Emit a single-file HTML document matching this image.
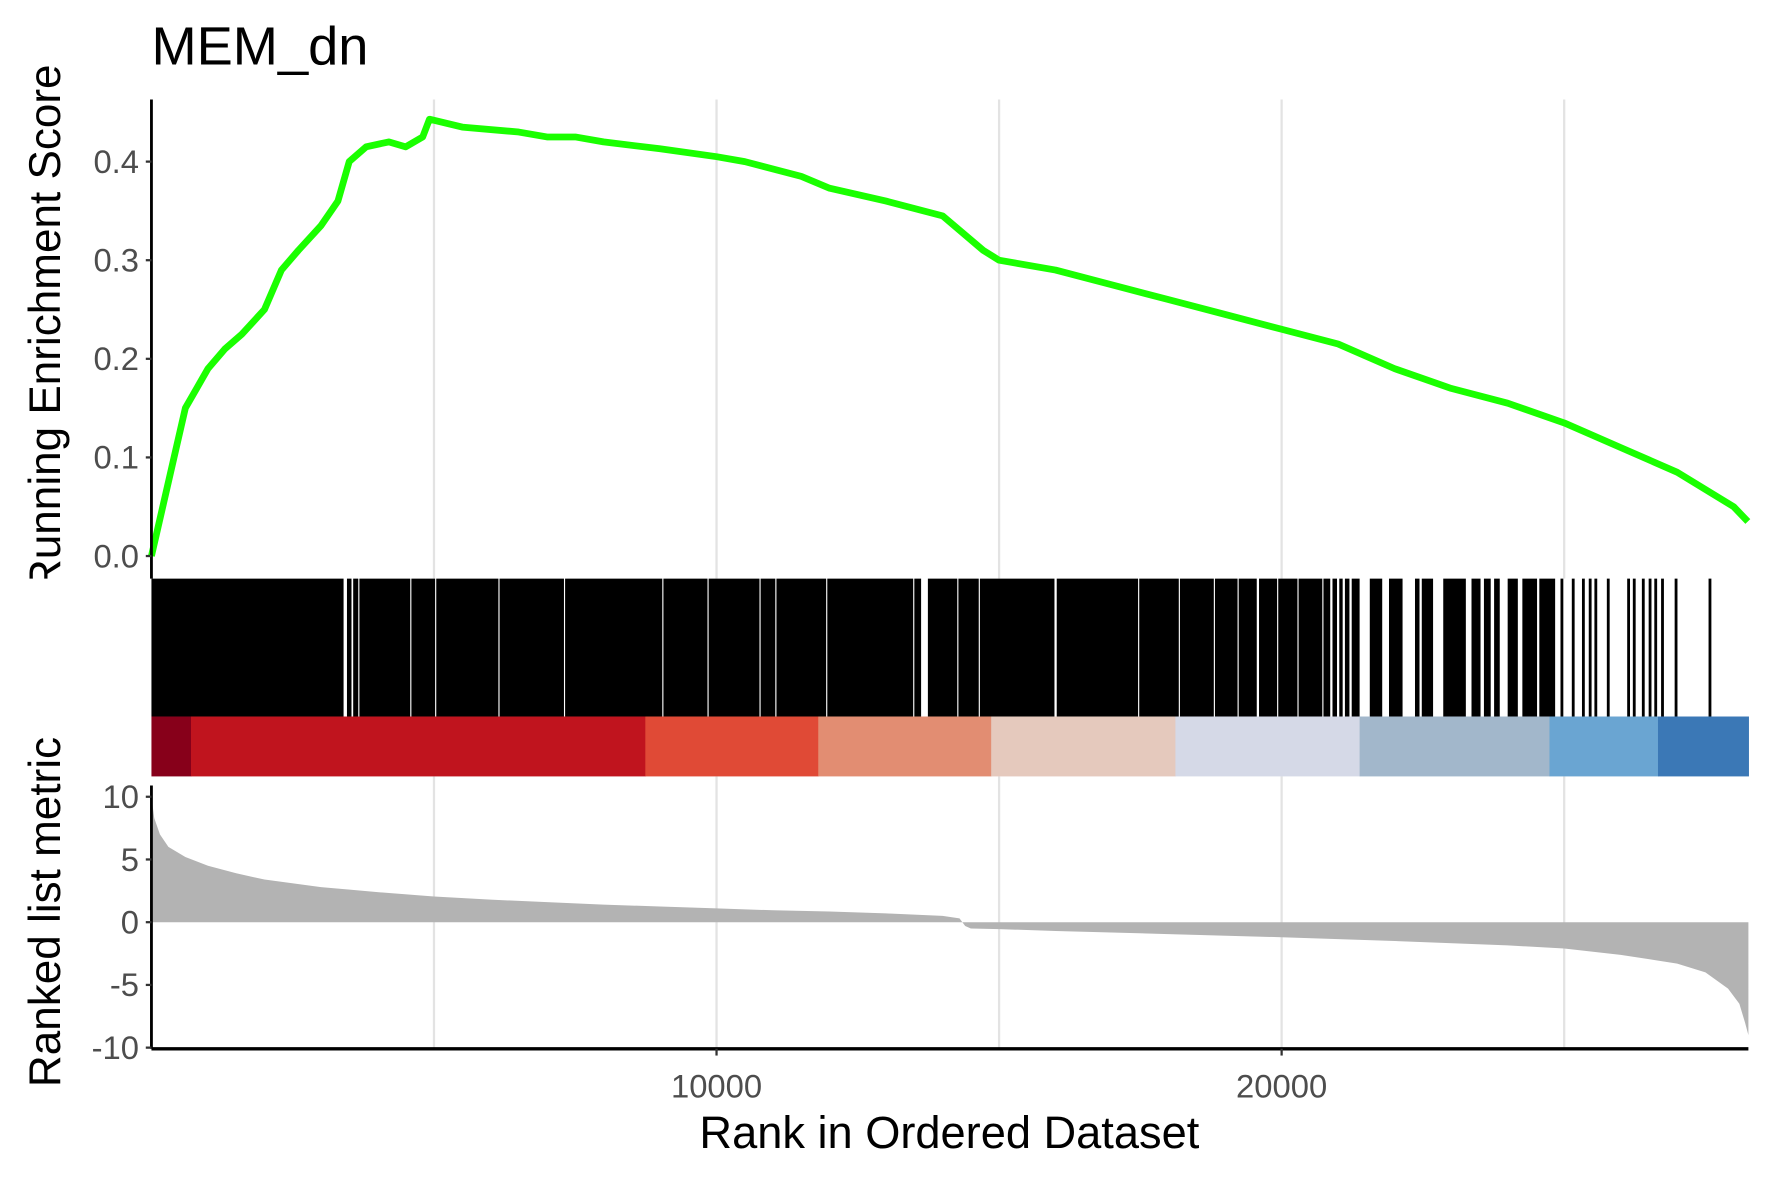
<!DOCTYPE html>
<html><head><meta charset="utf-8"><style>
html,body{margin:0;padding:0;background:#fff;}
svg{display:block;font-family:"Liberation Sans",Arial,sans-serif;}
</style></head><body>
<svg id="chart" width="1771" height="1181" viewBox="0 0 1567 1045" preserveAspectRatio="none" xmlns="http://www.w3.org/2000/svg">
<defs><clipPath id="ytclip"><rect x="0" y="40" width="130" height="472"/></clipPath></defs>
<rect width="1567" height="1045" fill="#fff"/>
<text x="134" y="57" font-size="48" fill="#000">MEM_dn</text>
<g id="grid"></g>
<g id="hits"></g>
<g id="colorbar"></g>
<g id="metric"></g>
<g id="es"></g>
<g id="axes"></g>
<g clip-path="url(#ytclip)"><text transform="translate(53,290) rotate(-90)" text-anchor="middle" font-size="39" fill="#000">Running Enrichment Score</text></g>
<text transform="translate(53,807) rotate(-90)" text-anchor="middle" font-size="39" fill="#000">Ranked list metric</text>
<text x="840" y="1016" text-anchor="middle" font-size="40" fill="#000">Rank in Ordered Dataset</text>
</svg>
<script>
const esRanks=[0,200,400,600,800,1000,1300,1600,2000,2300,2600,3000,3300,3500,3800,4200,4500,4800,4920,5500,6500,7000,7500,8000,9000,10000,10500,11500,12000,13000,14000,14720,15000,16000,17000,18000,19000,20000,21000,22000,23000,24000,25000,26000,27000,28000,28250];
const esValues=[0,0.05,0.1,0.15,0.17,0.19,0.21,0.225,0.25,0.29,0.31,0.335,0.36,0.4,0.415,0.42,0.415,0.425,0.443,0.435,0.43,0.425,0.425,0.42,0.413,0.405,0.4,0.385,0.373,0.36,0.345,0.31,0.3,0.29,0.275,0.26,0.245,0.23,0.215,0.19,0.17,0.155,0.135,0.11,0.085,0.05,0.035];
const esTicks=[0,0.1,0.2,0.3,0.4];
const esTickLabels=["0.0","0.1","0.2","0.3","0.4"];
const metricRanks=[0,50,150,300,600,1000,1500,2000,3000,4000,5000,6000,7000,8000,9000,10000,11000,12000,13000,14000,14300,14400,14500,15000,16000,18000,20000,22000,24000,25000,26000,27000,27500,27900,28100,28200,28260];
const metricValues=[10,8.3,7,6,5.2,4.5,3.9,3.4,2.8,2.4,2.05,1.8,1.6,1.4,1.25,1.1,0.95,0.85,0.7,0.5,0.3,-0.3,-0.5,-0.55,-0.7,-0.95,-1.2,-1.5,-1.85,-2.1,-2.6,-3.3,-4,-5.3,-6.5,-8,-9];
const metricTicks=[10,5,0,-5,-10];
const xTicks=[10000,20000];
const gridRanks=[5000,10000,15000,20000,25000];
const hitGaps=[[3400,3460],[3540,3570],[3660,3680],[4580,4600],[5020,5040],[6140,6160],[7300,7320],[9040,9060],[9840,9860],[10760,10780],[11040,11060],[11940,11960],[13480,13500],[13620,13740],[14260,14280],[14640,14660],[15980,16020],[17460,17480],[18180,18200],[18800,18820],[19220,19240],[19560,19600],[19920,19940],[20280,20300],[20720,20740],[20860,20900],[20980,21020],[21080,21120],[21200,21240],[21380,21560],[21780,21900],[22140,22360],[22440,22480],[22680,22860],[23260,23360],[23520,23580],[23700,23760],[23860,24000],[24180,24260],[24520,24560]];
const hitBlockEnd=24840;
const sparseHits=[24960,25160,25340,25460,25560,25780,26140,26240,26400,26520,26620,26740,26980,27580];
const colorStops=[0,700,8740,11800,14860,18120,21380,24740,26660,28260];
const colorFills=["#87001a","#c0141e","#e04a36","#e28d72","#e5c9bd","#d5d9e7","#a2b7cb","#6aa5d2","#3b78b6"];

const NS="http://www.w3.org/2000/svg";
const X0=134,X1=1547,RMAX=28260;
const x=r=>X0+(r/RMAX)*(X1-X0);
const yEs=v=>492-v*872.5;
const yM=v=>816-v*11.1;
function mk(tag,attrs,parent){const e=document.createElementNS(NS,tag);for(const k in attrs)e.setAttribute(k,attrs[k]);parent.appendChild(e);return e;}
const G=id=>document.getElementById(id);

gridRanks.forEach(r=>{
  let l=mk('line',{x1:x(r),x2:x(r),y1:88,y2:512,stroke:'#e3e3e3','stroke-width':2},G('grid'));
  
  
  let l2=mk('line',{x1:x(r),x2:x(r),y1:687,y2:928,stroke:'#e3e3e3','stroke-width':2},G('grid'));
  
  
});
let prev=0;
const blocks=[];
hitGaps.forEach(g=>{blocks.push([prev,g[0]]);prev=g[1];});
blocks.push([prev,hitBlockEnd]);
blocks.forEach(b=>{
  let r=mk('rect',{x:x(b[0]),y:512,width:Math.max(1,x(b[1])-x(b[0])),height:122,fill:'#000'},G('hits'));
  
  
});
sparseHits.forEach(h=>{
  let l=mk('line',{x1:x(h),x2:x(h),y1:512,y2:634,stroke:'#000','stroke-width':2.5},G('hits'));
  
  
});
colorFills.forEach((c,i)=>{
  let r=mk('rect',{x:x(colorStops[i]),y:634,width:x(colorStops[i+1])-x(colorStops[i])+0.5,height:53,fill:c},G('colorbar'));
  
  
});
let d='M'+x(metricRanks[0])+','+yM(0);
metricRanks.forEach((r,i)=>{d+=' L'+x(r)+','+yM(metricValues[i]);});
d+=' L'+x(metricRanks[metricRanks.length-1])+','+yM(0)+' Z';
let area=mk('path',{d:d,fill:'#b3b3b3'},G('metric'));


let pd=esRanks.map((r,i)=>(i?'L':'M')+x(r)+','+yEs(esValues[i])).join(' ');
let es=mk('path',{d:pd,fill:'none',stroke:'#1aff00','stroke-width':6,'stroke-linejoin':'round'},G('es'));


const A=G('axes');
let ya=mk('line',{x1:X0,x2:X0,y1:88,y2:512,stroke:'#000','stroke-width':2.5},A);


esTicks.forEach((v,i)=>{
  mk('line',{x1:X0-5,x2:X0,y1:yEs(v),y2:yEs(v),stroke:'#333','stroke-width':2},A);
  let t=mk('text',{x:X0-11,y:yEs(v)+10,'text-anchor':'end','font-size':29,fill:'#4d4d4d'},A);
  t.textContent=esTickLabels[i];
  
  
});
let ym=mk('line',{x1:X0,x2:X0,y1:695,y2:928,stroke:'#000','stroke-width':2.5},A);


metricTicks.forEach(v=>{
  mk('line',{x1:X0-5,x2:X0,y1:yM(v),y2:yM(v),stroke:'#333','stroke-width':2},A);
  let t=mk('text',{x:X0-11,y:yM(v)+10,'text-anchor':'end','font-size':29,fill:'#4d4d4d'},A);
  t.textContent=String(v);
  
  
});
let xa=mk('line',{x1:X0,x2:X1,y1:928,y2:928,stroke:'#000','stroke-width':3},A);


xTicks.forEach(r=>{
  mk('line',{x1:x(r),x2:x(r),y1:928,y2:934,stroke:'#333','stroke-width':2},A);
  let t=mk('text',{x:x(r),y:971,'text-anchor':'middle','font-size':29,fill:'#4d4d4d'},A);
  t.textContent=String(r);
  
  
});
</script>
</body></html>
